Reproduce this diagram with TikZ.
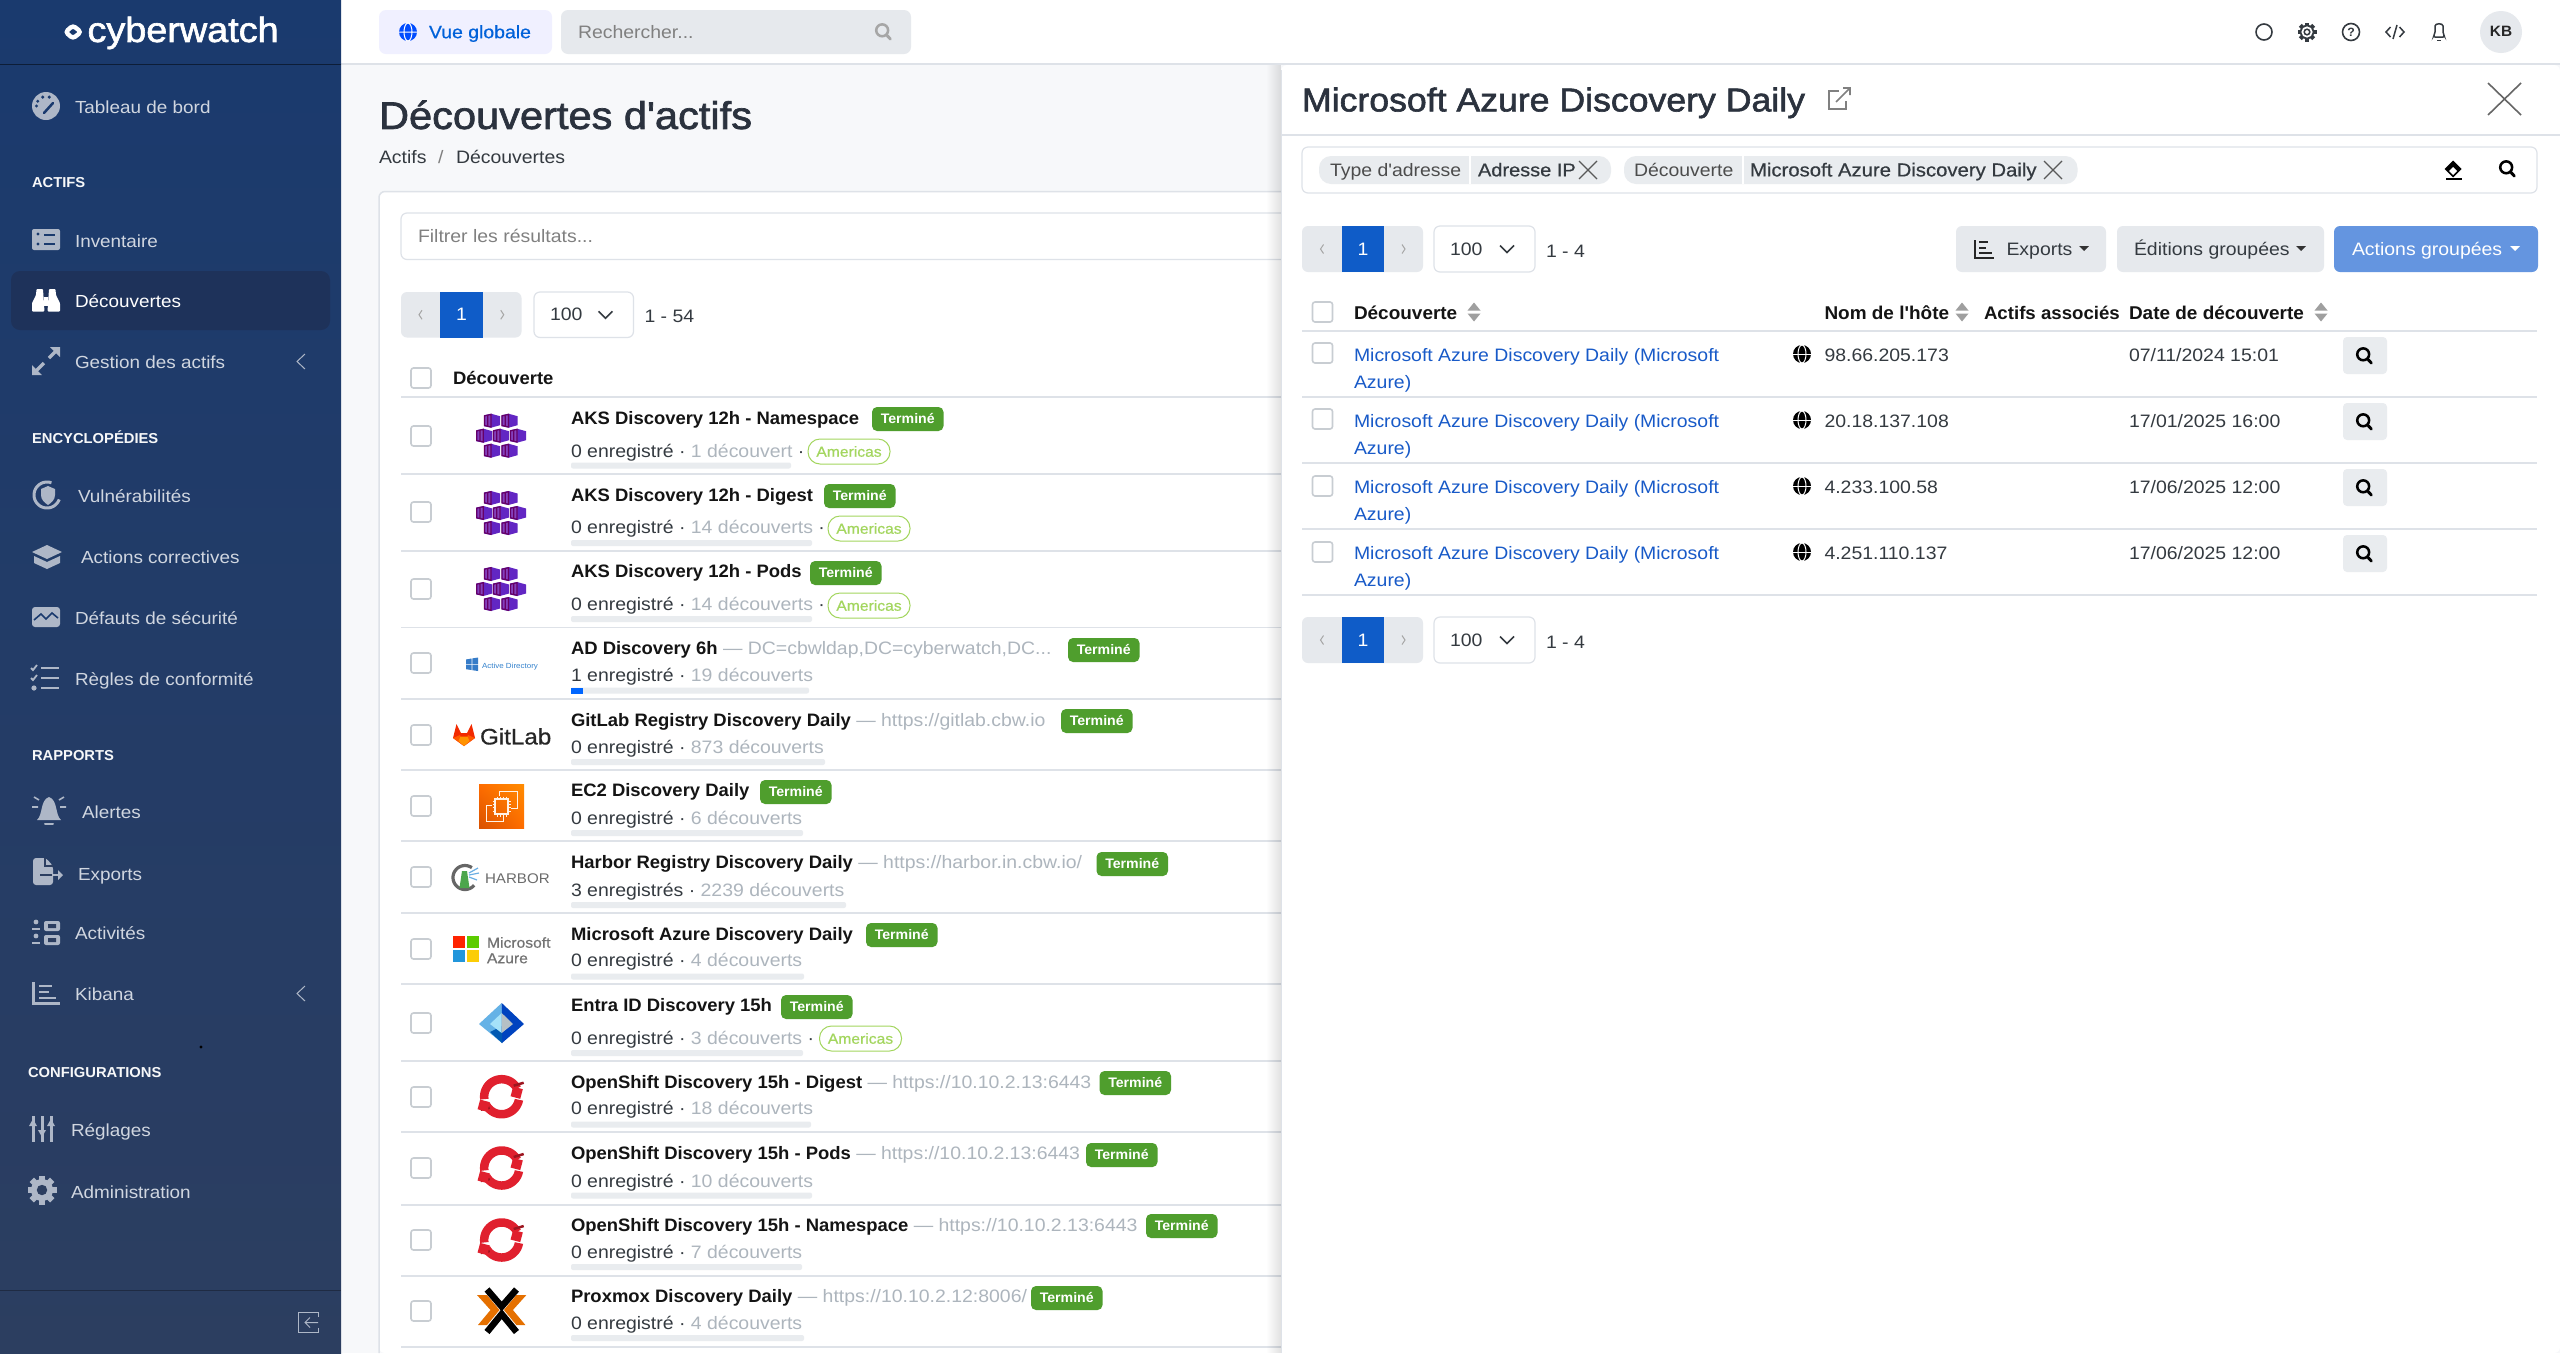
\documentclass[tikz,border=0pt]{standalone}
\usepackage{fontspec}
\usetikzlibrary{shadings}
\newfontfamily\fr[FakeStretch=1.08]{Liberation Sans}
\newfontfamily\fm[FakeStretch=1.08,FakeBold=0.6]{Liberation Sans}
\newfontfamily\ft[FakeStretch=1.08,FakeBold=1.8]{Liberation Sans}
\newfontfamily\fb[FakeStretch=1.025,BoldFont={Liberation Sans Bold}]{Liberation Sans Bold}
\definecolor{sbtop}{RGB}{26,58,110}
\definecolor{sbbot}{RGB}{44,62,96}
\definecolor{sbact}{RGB}{30,50,90}
\definecolor{ic}{RGB}{174,183,199}
\definecolor{sbtext}{RGB}{208,214,224}
\definecolor{pagebg}{RGB}{247,248,250}
\definecolor{linec}{RGB}{222,226,232}
\definecolor{tdark}{RGB}{52,58,64}
\definecolor{ttitle}{RGB}{43,50,62}
\definecolor{tgrey}{RGB}{173,181,189}
\definecolor{barc}{RGB}{233,236,239}
\definecolor{okgreen}{RGB}{79,158,45}
\definecolor{lime}{RGB}{163,214,94}
\definecolor{blue1}{RGB}{15,92,200}
\definecolor{pgrey}{RGB}{230,233,237}
\definecolor{chkc}{RGB}{200,205,210}
\definecolor{linkc}{RGB}{24,90,200}
\definecolor{actbtn}{RGB}{100,149,224}
\definecolor{rhred}{RGB}{224,32,46}
\definecolor{pxorange}{RGB}{229,112,0}
\tikzset{
  tx/.style={anchor=mid west,inner sep=0pt,outer sep=0pt},
  txc/.style={anchor=mid,inner sep=0pt,outer sep=0pt},
}
\newcommand\tx[6]{\node[tx,text=#5] at ({#1},{#2+0.28*#3-1}) {#4\fontsize{#3}{#3}\selectfont #6};}
\newcommand\txm[6]{\node[txc,text=#5] at ({#1},{#2+0.28*#3-1}) {#4\fontsize{#3}{#3}\selectfont #6};}
\newcommand\sbi[3]{\tx{#1}{#2}{17.5}{\fr}{sbtext}{#3}}
\newcommand\sbh[3]{\tx{#1}{#2}{14.4}{\fb}{white!90!ic}{#3}}
\newcommand\chk[2]{\draw[chkc,line width=1.6,rounded corners=2.5,fill=white] ({#1-10},{#2-10}) rectangle ({#1+10},{#2+10});}
\newcommand\rowA[3]{\chk{421}{#1}\fill[barc,rounded corners=2] (571,{#2-3}) rectangle (#3,{#2+3});}
\newcommand\rowT[3]{\tx{571}{#1}{18}{\fb}{black!92}{#2{\fr\textcolor{tgrey}{#3}}}}
\newcommand\rowL[4]{\tx{571}{#1}{18}{\fr}{tdark}{#2 · \textcolor{tgrey}{#3}#4}}
\newcommand\badge[2]{\fill[okgreen,rounded corners=5] (#1,#2) rectangle ({#1+71.5},{#2+24});\txm{#1+35.75}{#2+11.5}{13.8}{\fb}{white}{Terminé}}
\newcommand\pill[2]{\draw[lime,line width=1,fill=white,rounded corners=12] (#1,#2) rectangle ({#1+82},{#2+25});\txm{#1+41}{#2+12.5}{14.5}{\fm}{lime}{Americas}}
\newcommand\lens[4]{\draw[#4,line width=#3*0.36] ({#1-#3*0.12},{#2-#3*0.1}) circle ({#3*0.85});\draw[#4,line width=#3*0.42,line cap=round] ({#1+#3*0.5},{#2+#3*0.55}) -- ({#1+#3*1.05},{#2+#3*1.15});}
\newcommand\gearf[5]{\foreach \a in {0,45,...,315}{\draw[#4,line width=#3*0.42] (#1,#2) -- ({#1+#3*cos(\a)},{#2+#3*sin(\a)});}\fill[#4] (#1,#2) circle ({#3*0.76});\fill[#5] (#1,#2) circle ({#3*0.36});}
\newcommand\aksc[2]{\begin{scope}[shift={({#1},{#2})}]
  \fill[violet!55!blue!85!white] (-8,-5.5)--(-1,-7)--(8,-4.5)--(8,4.5)--(-1,7)--(-8,5.5)--cycle;
  \fill[violet!70!blue!75!white] (-7,-4.7)--(-1,-6)--(-1,6)--(-7,4.7)--cycle;
  \draw[violet!80!black,line width=1.2] (-7.5,-4.8)--(-1,-6.3)--(-1,6.3)--(-7.5,4.8)--cycle (-4.3,-5.5)--(-4.3,5.5);
\end{scope}}
\newcommand\aks[1]{\aksc{492}{#1-15}\aksc{509.5}{#1-15}\aksc{484.3}{#1}\aksc{501}{#1}\aksc{518}{#1}\aksc{492}{#1+15}\aksc{509.5}{#1+15}}
\newcommand\osft[1]{\begin{scope}[shift={(501.7,#1)}]
  \draw[rhred,line width=8.5,domain=28:188,samples=40] plot ({17.5*cos(\x)},{-17.5*sin(\x)});
  \draw[rhred,line width=8.5,domain=208:350,samples=40] plot ({17.5*cos(\x)},{-17.5*sin(\x)});
  \draw[rhred!70!black,line width=2.5] (12,-11)--(22,-14);
  \draw[rhred!70!black,line width=2.5] (-12,11)--(-21,13);
  \fill[rhred,rotate around={-15:(15,-4)}] (10,-9) rectangle (20,1);
  \fill[rhred,rotate around={-15:(-18,9)}] (-23,4) rectangle (-13,14);
\end{scope}}
\newcommand\pager[9]{% x0 bluex0 bluex1 x1 selx0 selx1 y0 y1 count
  \fill[pgrey,rounded corners=6] (#1,#7) rectangle (#4,#8);
  \fill[blue1] (#2,#7) rectangle (#3,#8);
  \txm{(#2+#3)/2}{(#7+#8)/2}{18}{\fr}{white}{1}
  \draw[gray!70,line width=1] ({(#1+#2)/2+1.5},{(#7+#8)/2-4.5})--({(#1+#2)/2-1.5},{(#7+#8)/2})--({(#1+#2)/2+1.5},{(#7+#8)/2+4.5});
  \draw[gray!70,line width=1] ({(#3+#4)/2-1.5},{(#7+#8)/2-4.5})--({(#3+#4)/2+1.5},{(#7+#8)/2})--({(#3+#4)/2-1.5},{(#7+#8)/2+4.5});
  \draw[linec,line width=1.2,fill=white,rounded corners=6] (#5,#7) rectangle (#6,#8);
  \tx{#5+16}{(#7+#8)/2}{18}{\fr}{tdark}{100}
  \draw[tdark,line width=1.5] ({#6-35},{(#7+#8)/2-3.5})--({#6-28},{(#7+#8)/2+3.5})--({#6-21},{(#7+#8)/2-3.5});
  \tx{#6+11}{(#7+#8)/2+2}{18}{\fr}{tdark}{#9}}
\newcommand\sortm[2]{\fill[gray!75] ({#1-6.5},{#2-1.5})--(#1,{#2-9.5})--({#1+6.5},{#2-1.5})--cycle;\fill[gray!75] ({#1-6.5},{#2+1.5})--(#1,{#2+9.5})--({#1+6.5},{#2+1.5})--cycle;}
\newcommand\globe[2]{\fill[black] (#1,{#2}) circle (9);\draw[white,line width=1] (#1,{#2}) ellipse (4 and 9);\draw[white,line width=1] ({#1-9},{#2}) -- ({#1+9},{#2});}
\newcommand\panelrow[4]{% line1y chky ip date
  \chk{1322.5}{#2}
  \tx{1354}{#1}{18}{\fr}{linkc}{Microsoft Azure Discovery Daily (Microsoft}
  \tx{1354}{#1+27}{18}{\fr}{linkc}{Azure)}
  \globe{1802}{#1-1}
  \tx{1824.5}{#1}{18}{\fr}{tdark}{#3}
  \tx{2129}{#1}{18}{\fr}{tdark}{#4}
  \fill[barc,rounded corners=4] (2343,{#1-18}) rectangle (2387,{#1+19});
  \lens{2364}{#1}{7}{black}
}
\newcommand\crossx[3]{\draw[black!65,line width=1.3] ({#1-#3},{#2-#3})--({#1+#3},{#2+#3}) ({#1-#3},{#2+#3})--({#1+#3},{#2-#3});}
\begin{document}
\begin{tikzpicture}[x=1pt,y=-1pt]
\useasboundingbox (0,0) rectangle (2560,1353);
% page
\fill[pagebg] (0,0) rectangle (2560,1353);
\fill[white] (341,0) rectangle (2560,64);
\draw[linec,line width=1.5] (341,64) -- (2560,64);
% sidebar
\shade[top color=sbtop,bottom color=sbbot] (0,0) rectangle (341,1353);
\draw[black!50!sbtop,line width=1] (0,64.5) -- (341,64.5);
\draw[black!30!sbbot,line width=.8] (0,1290) -- (341,1290);
% logo
\draw[white,line width=4.4,rounded corners=3] (65.5,32) -- (73,25.5) -- (81,32) -- (73,38.5) -- cycle;
\tx{87.5}{31}{35}{\ft}{white}{cyberwatch}
% sidebar items
\fill[ic] (46,106) circle (14);
\foreach \a in {150,110,70,180}{\fill[sbtop] ({46+9.5*cos(\a)},{106-9.5*sin(\a)}) circle (1.7);}
\draw[sbtop,line width=2.5,line cap=round] (44,113) -- (53,103);
\sbi{75}{107}{Tableau de bord}
\sbh{32}{182.5}{ACTIFS}
\fill[ic,rounded corners=2] (32,229) rectangle (60,250);
\fill[sbtop] (38,234) circle (1.6) (38,244) circle (1.6);
\draw[sbtop,line width=2.4] (44,235) -- (55,235) (44,244) -- (55,244);
\sbi{75}{241}{Inventaire}
\fill[sbact,rounded corners=9] (11,271) rectangle (330,330);
\fill[white,rounded corners=1] (32,311.5) -- (32,303) -- (36,295) -- (36.5,289) -- (43,289) -- (44.5,311.5) -- cycle;
\fill[white,rounded corners=1] (60,311.5) -- (60,303) -- (56,295) -- (55.5,289) -- (49,289) -- (47.5,311.5) -- cycle;
\fill[white] (44,297) rectangle (48,306);
\tx{75}{301}{17.5}{\fr}{white}{Découvertes}
\fill[ic] (50,347) -- (60,347) -- (60,357) -- cycle;
\fill[ic] (32,365) -- (32,375) -- (42,375) -- cycle;
\draw[ic,line width=3.4] (49,358) -- (56,351) (36,371) -- (44,363);
\sbi{75}{362}{Gestion des actifs}
\draw[ic,line width=1] (305,354) -- (297,361.5) -- (305,369);
\sbh{32}{438.5}{ENCYCLOPÉDIES}
% vuln
\draw[ic,line width=3,domain=70:340,samples=30] plot ({47+13*cos(\x)},{495-13*sin(\x)});
\fill[ic] (41,489) -- (48,486) -- (55,489) -- (55,495) .. controls (55,500) and (51,503) .. (48,505) .. controls (45,503) and (41,500) .. (41,495) -- cycle;
\sbi{78}{496}{Vulnérabilités}
% box
\fill[ic] (47,545) -- (62,552) -- (47,559) -- (32,552) -- cycle;
\fill[ic] (34,556) -- (47,562) -- (60,556) -- (60,563) -- (47,569) -- (34,563) -- cycle;
\sbi{81}{557}{Actions correctives}
% defauts
\fill[ic,rounded corners=3] (32,607) rectangle (60,627);
\draw[sbtop,line width=1.6] (34,620) -- (41,614) -- (46,619) -- (52,613) -- (58,618);
\sbi{75}{618}{Défauts de sécurité}
% regles
\draw[ic,line width=2.4] (41,668) -- (59,668) (41,678) -- (59,678) (41,688) -- (59,688);
\draw[ic,line width=1.8] (31,668) -- (33,670) -- (37,665) (31,678) -- (33,680) -- (37,675);
\fill[ic] (34,688) circle (2.6);
\sbi{75}{679}{Règles de conformité}
\sbh{32}{755}{RAPPORTS}
% alert
\fill[ic] (37,820) .. controls (43,815) and (40,800) .. (49,797) .. controls (58,800) and (55,815) .. (61,820) -- cycle;
\draw[ic,line width=2,line cap=round] (45,824) -- (53,824);
\draw[ic,line width=1.6] (34,797) -- (39,800) (32,807) -- (38,807) (64,797) -- (59,800) (66,807) -- (60,807);
\sbi{82}{812}{Alertes}
% exports
\fill[ic,rounded corners=3] (33,858) -- (46,858) -- (53,866) -- (53,885) -- (33,885) -- cycle;
\draw[sbbot,line width=1.4] (45,858) -- (45,866) -- (53,866);
\draw[sbbot,line width=1.6] (40,875) -- (52,875);
\draw[ic,line width=2] (52,875) -- (59,875);
\fill[ic] (58,870) -- (63,875) -- (58,880) -- cycle;
\sbi{78}{874}{Exports}
% activités
\fill[ic] (36,922) circle (2.4) (36,936) circle (2.4);
\draw[ic,line width=2.4] (32,929) -- (40,929) (32,943) -- (40,943);
\fill[ic,rounded corners=2] (44,921) rectangle (60,931) (44,935) rectangle (60,945);
\fill[sbbot] (48,924) rectangle (56,928) (48,938) rectangle (56,942);
\sbi{75}{933}{Activités}
% kibana
\draw[ic,line width=3] (33.5,982) -- (33.5,1003.5) -- (60,1003.5);
\draw[ic,line width=2.4] (39,986) -- (52,986) (39,992) -- (49,992) (39,998) -- (56,998);
\sbi{75}{994}{Kibana}
\draw[ic,line width=1] (305,986) -- (297,993.5) -- (305,1001);
\fill[black] (201,1047) circle (1.6);
\sbh{28}{1072.5}{CONFIGURATIONS}
% réglages
\draw[ic,line width=3] (33,1116) -- (33,1142) (42,1116) -- (42,1142) (51,1116) -- (51,1142);
\fill[ic] (29,1126) -- (33,1119) -- (37,1126) -- cycle (38,1130) -- (42,1137) -- (46,1130) -- cycle (47,1126) -- (51,1119) -- (55,1126) -- cycle;
\sbi{71}{1130}{Réglages}
\gearf{42}{1190}{14.5}{ic}{sbbot}
\sbi{71}{1192}{Administration}
\draw[ic,line width=1] (318,1317) -- (318,1312.5) -- (298.5,1312.5) -- (298.5,1332.5) -- (318,1332.5) -- (318,1328);
\draw[ic,line width=1] (318,1322.5) -- (305,1322.5) (310,1317.5) -- (305,1322.5) -- (310,1327.5);
% top bar
\fill[blue!6!white,rounded corners=7] (379,10) rectangle (552,54);
\fill[blue!70!cyan] (408,32) circle (9);
\draw[white,line width=1] (408,32) ellipse (4 and 9) (399,32) -- (417,32);
\tx{429}{32}{18}{\fm}{blue!55!cyan!85!black}{Vue globale}
\fill[pgrey,rounded corners=7] (561,10) rectangle (911,54);
\tx{578}{32}{18}{\fr}{gray}{Rechercher...}
\lens{883}{31}{7}{gray!70}
\draw[tdark,line width=1.6] (2264,32) circle (8);
\gearf{2307}{32}{9.5}{tdark}{white}
\fill[white] (2307,32) circle (5.6);
\draw[tdark,line width=1.5] (2307,32) circle (2.8);
\draw[tdark,line width=1.6] (2351,32) circle (8.5);
\txm{2351}{32}{12}{\fb}{tdark}{?}
\draw[tdark,line width=1.5] (2390.5,27) -- (2386,32) -- (2390.5,37) (2399.5,27) -- (2404,32) -- (2399.5,37) (2397,25) -- (2393,39);
\draw[tdark,line width=1.5,rounded corners=2] (2433,37) -- (2435,34) -- (2435,28) .. controls (2435,23) and (2443,23) .. (2443,28) -- (2443,34) -- (2445,37) -- cycle;
\draw[tdark,line width=1.5] (2437,40.5) -- (2441,40.5);
\fill[pgrey] (2501,32) circle (21);
\txm{2501}{31}{15}{\fb}{black!85}{KB}
% heading
\tx{379}{117}{38.5}{\ft}{ttitle}{Découvertes d'actifs}
\tx{379}{157}{18}{\fr}{tdark}{Actifs}
\tx{438}{157}{18}{\fr}{gray}{/}
\tx{456}{157}{18}{\fr}{tdark}{Découvertes}
% card
\fill[white,rounded corners=6] (379,1353) -- (379,191) -- (1290,191) -- (1290,1353) -- cycle;
\draw[linec,line width=1.5,rounded corners=6] (379,1353) -- (379,191.5) -- (1290,191.5);
\draw[linec,line width=1.2,rounded corners=6,fill=white] (1290,213) -- (401,213) -- (401,259.5) -- (1290,259.5);
\tx{418}{236}{18}{\fr}{gray}{Filtrer les résultats...}
\pager{401}{440}{483}{521.5}{534}{633.5}{292}{337.5}{1 - 54}
\chk{421}{378}
\tx{453}{378}{18}{\fb}{black!92}{Découverte}
\foreach \y in {397,474,551,627.6,699,770,841,913,984,1061,1132,1205,1276,1347}{\draw[linec,line width=1.4] (401,\y) -- (1290,\y);}
% rows
\aks{435.7}\rowA{436}{465.5}{791}\rowT{418}{AKS Discovery 12h - Namespace}{}\rowL{451}{0 enregistré}{1 découvert}{ ·}\badge{872}{407}\pill{808}{439}
\aks{513}\rowA{512}{543}{812}\rowT{495}{AKS Discovery 12h - Digest}{}\rowL{527}{0 enregistré}{14 découverts}{ ·}\badge{824}{484}\pill{828}{516}
\aks{589}\rowA{589}{619}{812}\rowT{571}{AKS Discovery 12h - Pods}{}\rowL{604}{0 enregistré}{14 découverts}{ ·}\badge{810}{561}\pill{828}{593}
% AD
\fill[cyan!50!blue!85!white] (466,659.5) -- (471.5,658.5) -- (471.5,664) -- (466,664) -- cycle (472.3,658.4) -- (478,657.5) -- (478,664) -- (472.3,664) -- cycle (466,664.8) -- (471.5,664.8) -- (471.5,670) -- (466,669.2) -- cycle (472.3,664.8) -- (478,664.8) -- (478,671) -- (472.3,670.2) -- cycle;
\tx{482}{665}{7.4}{\fr}{cyan!55!blue!85!white}{Active Directory}
\rowA{663}{690.5}{809}\fill[blue!60!cyan] (571,687.5) rectangle (583,693.5);
\rowT{648}{AD Discovery 6h}{~— DC=cbwldap,DC=cyberwatch,DC...}\rowL{675}{1 enregistré}{19 découverts}{}\badge{1068}{638}
% GitLab
\fill[red!65!orange!95!black] (453,738) -- (456.5,724) -- (461,733) -- (467,733) -- (471.5,724) -- (475,738) -- (464,746) -- cycle;
\fill[orange!70!red] (453,738) -- (460,735) -- (464,746) -- cycle (475,738) -- (468,735) -- (464,746) -- cycle;
\fill[orange!85!yellow] (458.5,741) -- (460.5,736.5) -- (467.5,736.5) -- (469.5,741) -- (464,746) -- cycle;
\tx{480}{737}{22.4}{\fm}{black!85}{GitLab}
\rowA{735}{762}{825}\rowT{720}{GitLab Registry Discovery Daily}{~— https://gitlab.cbw.io}\rowL{747}{0 enregistré}{873 découverts}{}\badge{1061}{709}
% EC2
\shade[lower left=orange!75!red!85!black,upper right=orange!90!yellow,upper left=orange!85!red,lower right=orange!85!red] (479,784) rectangle (524,828);
\draw[white!90!orange,line width=1] (499,796) -- (499,791) -- (517,791) -- (517,808) -- (511,808);
\draw[white!90!orange,line width=1] (492,805) -- (486,805) -- (486,821) -- (503,821) -- (503,817);
\draw[white!90!orange,line width=1.4] (495,799) rectangle (508,814);
\foreach \k in {0,1,2,3}{\draw[white!90!orange,line width=.8] ({497+\k*3},796.5) -- ({497+\k*3},799) ({497+\k*3},814) -- ({497+\k*3},816.5) (492.5,{801+\k*3.3}) -- (495,{801+\k*3.3}) (508,{801+\k*3.3}) -- (510.5,{801+\k*3.3});}
\rowA{806}{833}{803}\rowT{790.6}{EC2 Discovery Daily}{}\rowL{818}{0 enregistré}{6 découverts}{}\badge{760}{780}
% Harbor
\draw[black!60,line width=3.2,domain=55:320,samples=30] plot ({465+12*cos(\x)},{877.5-12*sin(\x)});
\fill[green!50!black!70!white] (462,871) -- (467,871) -- (469.5,888) -- (459.5,888) -- cycle;
\draw[cyan!70!blue!60!white,line width=1.2] (469,873) -- (478,868) (469,875) -- (479,873) (469,877) -- (477,880);
\tx{485}{878.5}{14}{\fr}{black!58}{HARBOR}
\rowA{877}{905}{846}\rowT{862}{Harbor Registry Discovery Daily}{~— https://harbor.in.cbw.io/}\rowL{890}{3 enregistrés}{2239 découverts}{}\badge{1096.5}{852}
% Azure
\fill[red!72!orange] (453,936) rectangle (465,948);
\fill[green!55!yellow!80!black] (467,936) rectangle (479,948);
\fill[cyan!75!blue!90!white] (453,950) rectangle (465,962);
\fill[yellow!65!orange] (467,950) rectangle (479,962);
\tx{487}{942.5}{14.5}{\fm}{black!55}{Microsoft}
\tx{487}{958}{14.5}{\fm}{black!55}{Azure}
\rowA{949}{976.5}{804}\rowT{934}{Microsoft Azure Discovery Daily}{}\rowL{960.6}{0 enregistré}{4 découverts}{}\badge{866}{923}
% Entra
\fill[cyan!55!white!85!blue] (501.7,1003) -- (479,1024) -- (502,1043) -- cycle;
\fill[blue!65!cyan!75!black] (501.7,1003) -- (524,1024) -- (502,1043) -- cycle;
\fill[blue!50!cyan!70!black] (490,1032) -- (502,1026) -- (502,1043) -- cycle;
\fill[cyan!35!white] (501.7,1013) -- (490,1024) -- (501.7,1033) -- cycle;
\fill[cyan!15!gray!60!white] (501.7,1013) -- (513,1024) -- (501.7,1033) -- cycle;
\rowA{1023}{1053}{803}\rowT{1005}{Entra ID Discovery 15h}{}\rowL{1038}{0 enregistré}{3 découverts}{ ·}\badge{781}{995}\pill{819.5}{1026}
% OpenShift
\osft{1096.7}\rowA{1097}{1124.5}{811}\rowT{1082}{OpenShift Discovery 15h - Digest}{~— https://10.10.2.13:6443}\rowL{1108.6}{0 enregistré}{18 découverts}{}\badge{1099.5}{1071}
\osft{1168}\rowA{1168}{1195.5}{812}\rowT{1153}{OpenShift Discovery 15h - Pods}{~— https://10.10.2.13:6443}\rowL{1181}{0 enregistré}{10 découverts}{}\badge{1086}{1143}
\osft{1240}\rowA{1240}{1267}{802}\rowT{1225}{OpenShift Discovery 15h - Namespace}{~— https://10.10.2.13:6443}\rowL{1252}{0 enregistré}{7 découverts}{}\badge{1146}{1214}
% Proxmox
\fill[pxorange] (477,1295) -- (487,1295) -- (499.5,1310) -- (487,1325) -- (478,1325) -- (490.5,1310) -- cycle;
\fill[pxorange] (526.4,1295) -- (516.4,1295) -- (503.9,1310) -- (516.4,1325) -- (525.4,1325) -- (512.9,1310) -- cycle;
\draw[black,line width=6.5] (487,1289.5) -- (501.7,1306.5) -- (516.5,1289.5);
\draw[black,line width=6.5] (487,1332) -- (501.7,1314) -- (516.5,1332);
\rowA{1311}{1338}{804}\rowT{1296}{Proxmox Discovery Daily}{~— https://10.10.2.12:8006/}\rowL{1323}{0 enregistré}{4 découverts}{}\badge{1031}{1286}
% panel shadow
\foreach \i in {1,...,14}{\fill[black,opacity=0.006] ({1281-\i},64.8) rectangle (1281,1353);}
% panel
\fill[white,rounded corners=6] (1281,1353) -- (1281,65) -- (2560,65) -- (2560,1353) -- cycle;
\draw[linec,line width=1] (1281,1353) -- (1281,70);
\tx{1302}{101}{33}{\ft}{ttitle}{Microsoft Azure Discovery Daily}
\draw[gray,line width=1.6] (1839,91) -- (1829,91) -- (1829,109) -- (1846,109) -- (1846,101);
\draw[gray,line width=1.6] (1836,102) -- (1850,88) (1843,88) -- (1850,88) -- (1850,95);
\draw[black!60,line width=1.6] (2488,83) -- (2521,115) (2488,115) -- (2521,83);
\draw[linec,line width=1.2] (1281,135) -- (2560,135);
\draw[linec,line width=1.2,rounded corners=6] (1302,147) rectangle (2537,193);
\fill[barc,rounded corners=12] (1319,156) rectangle (1611,184);
\draw[white,line width=1.2] (1470,156) -- (1470,184);
\tx{1330}{170}{18}{\fr}{black!70}{Type d'adresse}
\tx{1478}{170}{18.5}{\fm}{tdark}{Adresse IP}
\crossx{1588}{170}{9}
\fill[barc,rounded corners=12] (1624,156) rectangle (2077.5,184);
\draw[white,line width=1.2] (1743,156) -- (1743,184);
\tx{1634}{170}{18}{\fr}{black!70}{Découverte}
\tx{1750}{170}{18.8}{\fm}{tdark}{Microsoft Azure Discovery Daily}
\crossx{2053}{170}{9}
\fill[black,rotate around={45:(2453,169)}] (2447,163) rectangle (2459,175);
\fill[white] (2449,171) -- (2453,167) -- (2457,171) -- (2453,175) -- cycle;
\draw[black,line width=1.6] (2446,179) -- (2462,179);
\lens{2507}{168}{7}{black}
\pager{1302}{1342}{1384}{1423}{1434}{1535}{226}{272}{1 - 4}
\fill[pgrey,rounded corners=6] (1956,226) rectangle (2106,272);
\draw[black!85,line width=2] (1975,240) -- (1975,258) -- (1994,258);
\draw[black!85,line width=2] (1979,242) -- (1988,242) (1979,248) -- (1986,248) (1979,253) -- (1992,253);
\tx{2006.5}{249}{18}{\fr}{tdark}{Exports}
\fill[black!80] (2079,246) -- (2089,246) -- (2084,251) -- cycle;
\fill[pgrey,rounded corners=6] (2117,226) rectangle (2324,272);
\tx{2134}{249}{18}{\fr}{tdark}{Éditions groupées}
\fill[black!80] (2296,246) -- (2306,246) -- (2301,251) -- cycle;
\fill[actbtn,rounded corners=6] (2334,226) rectangle (2538,272);
\tx{2352}{249}{18}{\fr}{white}{Actions groupées}
\fill[white] (2510,246) -- (2520,246) -- (2515,251) -- cycle;
\chk{1322.5}{312}
\tx{1354}{313}{18.5}{\fb}{black!92}{Découverte}\sortm{1474}{312}
\tx{1824.5}{313}{18.5}{\fb}{black!92}{Nom de l'hôte}\sortm{1962}{312}
\tx{1984}{313}{18.2}{\fb}{black!92}{Actifs associés}
\tx{2129}{313}{18.5}{\fb}{black!92}{Date de découverte}\sortm{2321}{312}
\foreach \y in {331,397,463,529,595}{\draw[linec,line width=1.4] (1302,\y) -- (2537,\y);}
\panelrow{355}{353}{98.66.205.173}{07/11/2024 15:01}
\panelrow{421}{419}{20.18.137.108}{17/01/2025 16:00}
\panelrow{487}{486}{4.233.100.58}{17/06/2025 12:00}
\panelrow{553}{552}{4.251.110.137}{17/06/2025 12:00}
\pager{1302}{1342}{1384}{1423}{1434}{1535}{617}{663}{1 - 4}
\end{tikzpicture}
\end{document}
